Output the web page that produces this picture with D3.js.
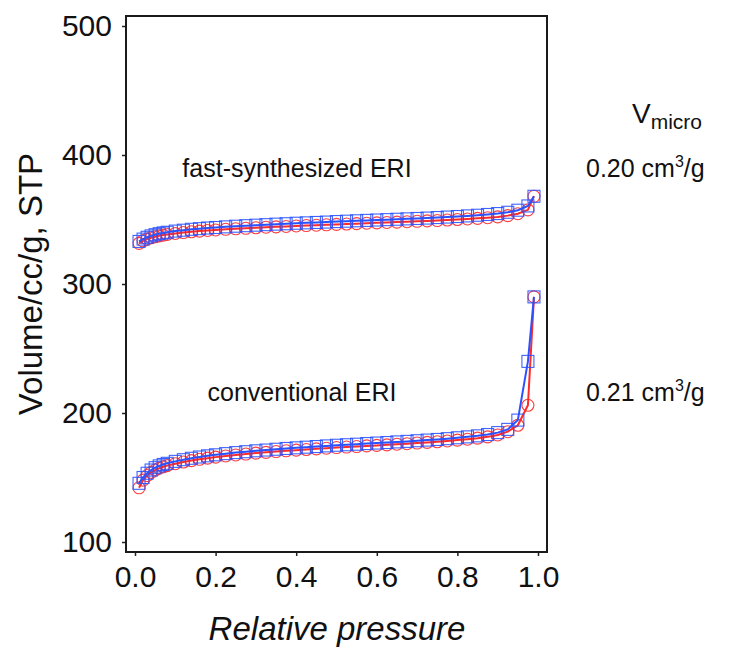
<!DOCTYPE html>
<html>
<head>
<meta charset="utf-8">
<script src="https://cdn.jsdelivr.net/npm/d3@7"></script>
<style>
  html, body { margin: 0; padding: 0; background: #fff; }
  svg { display: block; font-family: "Liberation Sans", Arial, sans-serif; }
</style>
</head>
<body>
<svg id="chart" width="739" height="648"></svg>
<script>
// N2 isotherms (relative pressure vs. adsorbed volume) for two ERI samples
const pressure = [0.01, 0.02, 0.03, 0.04, 0.05, 0.06, 0.07, 0.08, 0.10, 0.12, 0.14, 0.16, 0.18, 0.20,
  0.225, 0.25, 0.275, 0.30, 0.325, 0.35, 0.375, 0.40, 0.425, 0.45, 0.475, 0.50, 0.525, 0.55, 0.575,
  0.60, 0.625, 0.65, 0.675, 0.70, 0.725, 0.75, 0.775, 0.80, 0.825, 0.85, 0.875, 0.90, 0.925, 0.95,
  0.975, 0.99];

// fast-synthesized ERI
const fastAds = [331.5, 333.5, 334.8, 335.8, 336.6, 337.3, 337.9, 338.4, 339.2, 339.9, 340.5, 341.0,
  341.5, 341.9, 342.4, 342.8, 343.2, 343.6, 344.0, 344.3, 344.6, 345.0, 345.3, 345.6, 345.9, 346.2,
  346.5, 346.8, 347.1, 347.4, 347.7, 348.0, 348.3, 348.6, 348.9, 349.2, 349.6, 350.0, 350.4, 350.9,
  351.4, 352.0, 353.0, 354.5, 357.5, 368.0];
const fastDes = [333.0, 334.8, 336.2, 337.3, 338.2, 339.0, 339.6, 340.1, 341.0, 341.7, 342.4, 342.9,
  343.4, 343.8, 344.3, 344.8, 345.2, 345.6, 346.0, 346.4, 346.7, 347.1, 347.4, 347.7, 348.0, 348.4,
  348.7, 349.0, 349.3, 349.6, 349.9, 350.2, 350.5, 350.8, 351.1, 351.5, 351.9, 352.3, 352.8, 353.3,
  353.9, 354.6, 355.6, 357.2, 360.5, 368.0];

// conventional ERI
const convAds = [142.0, 148.0, 151.5, 154.0, 155.8, 157.2, 158.3, 159.2, 160.7, 162.0, 163.1, 164.1,
  165.0, 165.8, 166.7, 167.5, 168.2, 168.9, 169.5, 170.1, 170.7, 171.2, 171.7, 172.2, 172.7, 173.2,
  173.6, 174.0, 174.5, 174.9, 175.3, 175.8, 176.2, 176.7, 177.2, 177.7, 178.3, 179.0, 179.7, 180.5,
  181.5, 183.0, 185.5, 190.5, 206.0, 290.0];
const convDes = [145.5, 150.0, 153.3, 155.8, 157.6, 159.0, 160.1, 161.0, 162.5, 163.8, 164.9, 165.9,
  166.8, 167.6, 168.5, 169.3, 170.0, 170.7, 171.3, 171.9, 172.5, 173.0, 173.5, 174.0, 174.5, 175.0,
  175.4, 175.8, 176.3, 176.7, 177.1, 177.6, 178.0, 178.5, 179.0, 179.5, 180.1, 180.8, 181.5, 182.3,
  183.3, 184.8, 187.3, 194.5, 240.0, 290.0];

const xTicks = [0.0, 0.2, 0.4, 0.6, 0.8, 1.0];
const yTicks = [100, 200, 300, 400, 500];

const sampleNames = ["fast-synthesized ERI", "conventional ERI"];
const microVolumes = ["0.20", "0.21"];

const svg = d3.select("#chart");

const frame = { left: 126, right: 547, top: 16, bottom: 552 };
const x = d3.scaleLinear().domain([0, 1]).range([135, 538]);
const y = d3.scaleLinear().domain([100, 500]).range([542, 26]);

const red = "#ff2a2a";
const blue = "#2a52ff";
const ink = "#111";

// axes with outward ticks
const xAxis = svg.append("g")
  .attr("transform", `translate(0,${frame.bottom})`)
  .call(d3.axisBottom(x).tickValues(xTicks).tickFormat(d3.format(".1f")).tickSize(4).tickPadding(10));
const yAxis = svg.append("g")
  .attr("transform", `translate(${frame.left},0)`)
  .call(d3.axisLeft(y).tickValues(yTicks).tickSize(4).tickPadding(10));

[xAxis, yAxis].forEach(g => {
  g.select(".domain").remove();
  g.selectAll(".tick line").attr("stroke", "#222").attr("stroke-width", 1.5);
  g.selectAll(".tick text")
    .attr("fill", ink)
    .style("font-size", "30px")
    .style("font-family", "'Liberation Sans', Arial, sans-serif");
});

// plot frame
svg.append("rect")
  .attr("x", frame.left).attr("y", frame.top)
  .attr("width", frame.right - frame.left).attr("height", frame.bottom - frame.top)
  .attr("fill", "none").attr("stroke", "#1a1a1a").attr("stroke-width", 2);

const line = d3.line().x(d => x(d[0])).y(d => y(d[1]));

const series = [
  { values: fastAds, color: red, shape: "circle" },
  { values: convAds, color: red, shape: "circle" },
  { values: fastDes, color: blue, shape: "square" },
  { values: convDes, color: blue, shape: "square" }
];

const plot = svg.append("g");

series.forEach(s => {
  const pts = pressure.map((p, i) => [p, s.values[i]]);
  const g = plot.append("g");
  if (s.shape === "circle") {
    g.selectAll("circle").data(pts).join("circle")
      .attr("cx", d => x(d[0])).attr("cy", d => y(d[1])).attr("r", 6)
      .attr("fill", "none").attr("stroke", s.color).attr("stroke-width", 1.1).attr("opacity", 0.9);
  } else {
    g.selectAll("rect").data(pts).join("rect")
      .attr("x", d => x(d[0]) - 6).attr("y", d => y(d[1]) - 6)
      .attr("width", 12).attr("height", 12)
      .attr("fill", "none").attr("stroke", s.color).attr("stroke-width", 1.1).attr("opacity", 0.9);
  }
  g.append("path").datum(pts)
    .attr("d", line).attr("fill", "none")
    .attr("stroke", s.color).attr("stroke-width", 2);
});

// sample labels inside the plot
const labelY = [177, 401];
const labelX = [297, 302];
sampleNames.forEach((name, i) => {
  svg.append("text")
    .attr("x", labelX[i]).attr("y", labelY[i])
    .attr("text-anchor", "middle")
    .attr("fill", ink)
    .style("font-size", "25px")
    .text(name);
});

// micropore volume column
const vm = svg.append("text").attr("x", 632).attr("y", 123).attr("fill", ink).style("font-size", "28px");
vm.append("tspan").text("V");
vm.append("tspan").attr("dy", 6).style("font-size", "21px").text("micro");

microVolumes.forEach((v, i) => {
  const t = svg.append("text").attr("x", 586).attr("y", labelY[i]).attr("fill", ink).style("font-size", "25px");
  t.append("tspan").text(v + " cm");
  t.append("tspan").attr("dy", -10).style("font-size", "16px").text("3");
  t.append("tspan").attr("dy", 10).text("/g");
});

// axis titles
svg.append("text")
  .attr("x", 337).attr("y", 640)
  .attr("text-anchor", "middle")
  .attr("fill", ink)
  .style("font-size", "33px").style("font-style", "italic")
  .text("Relative pressure");

svg.append("text")
  .attr("transform", "translate(42,284) rotate(-90)")
  .attr("text-anchor", "middle")
  .attr("fill", ink)
  .style("font-size", "33px")
  .text("Volume/cc/g, STP");
</script>
</body>
</html>
